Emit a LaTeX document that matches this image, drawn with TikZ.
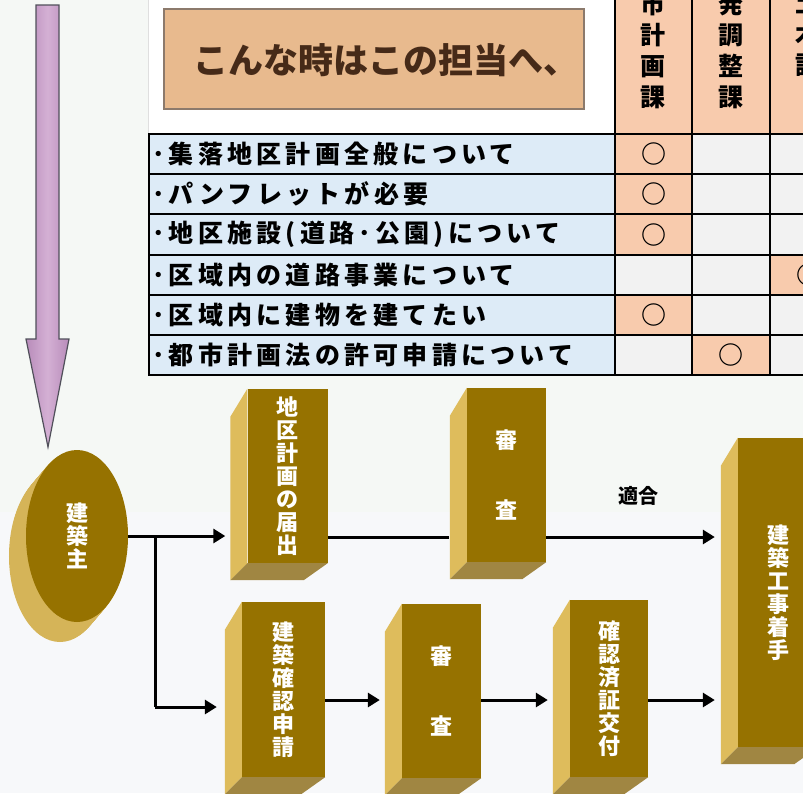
\documentclass[tikz,border=0pt]{standalone}
\usepackage{fontspec}
\setmainfont{Noto Sans CJK JP}
\usetikzlibrary{arrows.meta,shapes.geometric}

\definecolor{paper}{RGB}{245,248,245}
\definecolor{paperlow}{RGB}{247,248,250}
\definecolor{lilac}{RGB}{184,140,186}
\definecolor{lilaclight}{RGB}{212,176,212}
\definecolor{lilacedge}{RGB}{80,80,90}
\definecolor{titletan}{RGB}{232,186,142}
\definecolor{titleline}{RGB}{140,122,108}
\definecolor{titleink}{RGB}{70,42,24}
\definecolor{cellorange}{RGB}{248,203,173}
\definecolor{cellgrey}{RGB}{242,242,242}
\definecolor{cellblue}{RGB}{221,235,247}
\definecolor{goldfront}{RGB}{150,114,0}
\definecolor{goldside}{RGB}{222,188,92}
\definecolor{goldbottom}{RGB}{160,134,66}

\tikzset{
  block/.style={rectangle, fill=goldfront, text=white, minimum width=80pt,
    minimum height=174pt, inner sep=0pt, align=center,
    font=\fontsize{22}{23}\selectfont\bfseries},
  link/.style={line width=3pt, -{Triangle[length=12pt,width=14pt]}},
  plainlink/.style={line width=3pt},
  rowlabel/.style={anchor=west, inner sep=0pt,
    font=\fontsize{25}{25}\selectfont\bfseries\addfontfeature{LetterSpace=17}},
  okmark/.style={inner sep=0pt, font=\fontsize{25}{25}\selectfont\bfseries},
  headtext/.style={inner sep=0pt, align=center, font=\fontsize{25}{31}\selectfont\bfseries},
  grid/.style={line width=2pt, line cap=rect}
}

\begin{document}
\begin{tikzpicture}[x=1pt, y=-1pt]
\clip (0,0) rectangle (803,793);
\fill[paper] (0,0) rectangle (803,793);
\fill[paperlow] (0,512) rectangle (803,793);
\fill[white] (148,0) rectangle (615,134);
\draw[gray!25] (148,0) -- (148,134);

\shade[left color=lilac, right color=lilac, middle color=lilaclight, draw=lilacedge, line width=1.2pt]
  (36,5) -- (59,5) -- (59,339) -- (69,339) -- (48,447) -- (26,339) -- (36,339) -- cycle;

\node[fill=titletan, draw=titleline, line width=2.5pt, minimum width=420pt,
  minimum height=100pt] (title) at (374,59) {};
\node[text=titleink, inner sep=0pt, font=\fontsize{35}{35}\selectfont\bfseries]
  (titletext) at (386,60) {こんな時はこの担当へ、};

\fill[cellblue] (149,134) rectangle (615,375);
\fill[cellgrey] (615,134) rectangle (848,375);
\fill[cellorange] (615,0) rectangle (848,134);
\foreach \r/\xa/\xb in {1/615/692,2/615/692,3/615/692,4/770/848,5/615/692,6/692/770}
  \fill[cellorange] (\xa,{134+40.2*(\r-1)}) rectangle (\xb,{134+40.2*\r});
\foreach \r/\xa/\xb in {1/615/692,2/615/692,3/615/692,4/770/848,5/615/692,6/692/770}
  \node[okmark] (ok\r) at ({(\xa+\xb)/2},{134+40.2*\r-20.1}) {○};

\node[headtext] (head1) at (653,50) {市\\計\\画\\課};
\node[headtext] (head2) at (731,50) {発\\調\\整\\課};
\node[headtext] (head3) at (808,34) {土\\木\\課};

\foreach \txt [count=\i] in {･集落地区計画全般について, ･パンフレットが必要,
  ･地区施設(道路･公園)について, ･区域内の道路事業について,
  ･区域内に建物を建てたい, ･都市計画法の許可申請について}
  \node[rowlabel] (row\i) at (152,{134+40.2*\i-20.1}) {\txt};

\foreach \y in {134,174.2,214.4,254.6,294.8,335,375.2}
  \draw[grid] (149,\y) -- (848,\y);
\draw[grid] (149,134) -- (149,375.2);
\foreach \x in {615,692,770}
  \draw[grid] (\x,0) -- (\x,375.2);

\foreach \k in {20,...,1}
  \fill[goldside!85!goldbottom] ({77-0.85*\k},{536+\k}) ellipse [x radius=51pt, y radius=86pt];
\node[ellipse, fill=goldfront, text=white, minimum width=102pt, minimum height=172pt,
  inner sep=0pt, align=center, font=\fontsize{22}{23}\selectfont\bfseries] (owner) at (77,536) {建\\築\\主};

\node[block] (dist) at (287.5,476) {地\\区\\計\\画\\の\\届\\出};
\node[block, minimum width=79pt] (rev1) at (506.5,475) {審\\[47pt]査};
\node[block, minimum width=83pt, minimum height=175pt] (chk) at (283.5,689.5) {建\\築\\確\\認\\申\\請};
\node[block, minimum width=79pt] (rev2) at (441.5,691) {審\\[47pt]査};
\node[block, minimum width=78pt, minimum height=177pt] (cert) at (609,688.5) {確\\認\\済\\証\\交\\付};
\node[block, minimum height=309pt] (start) at (778,592.5) {建\\築\\工\\事\\着\\手};

\foreach \b in {dist,rev1,chk,rev2,cert,start} {
  \fill[goldside] (\b.north west) -- ([xshift=-17pt,yshift=-28pt]\b.north west)
    -- ([xshift=-17pt,yshift=-17pt]\b.south west) -- (\b.south west) -- cycle;
  \fill[goldbottom] (\b.south west) -- ([xshift=-17pt,yshift=-17pt]\b.south west)
    -- ([xshift=-24pt,yshift=-17pt]\b.south east) -- (\b.south east) -- cycle;
}

\coordinate (split) at (155,536);
\coordinate (turn) at (155,707);
\coordinate (lane1) at (0,537);
\coordinate (lane2) at (0,700);
\draw[link] (owner.east) -- ([xshift=-22pt]owner.east -| dist.west);
\draw[plainlink] (split) -- (turn);
\draw[link] (turn) -- ([xshift=-25pt]turn -| chk.west);
\draw[plainlink] (dist.east |- lane1) -- ([xshift=-18pt]rev1.west |- lane1);
\draw[link] (rev1.east |- lane1) -- node[pos=0.55, above=30pt, inner sep=0pt,
  font=\fontsize{20}{20}\selectfont\bfseries] (fit) {適合} ([xshift=-23pt]start.west |- lane1);
\draw[link] (chk.east |- lane2) -- ([xshift=-22pt]rev2.west |- lane2);
\draw[link] (rev2.east |- lane2) -- ([xshift=-22pt]cert.west |- lane2);
\draw[link] (cert.east |- lane2) -- ([xshift=-23pt]start.west |- lane2);
\end{tikzpicture}
\end{document}
